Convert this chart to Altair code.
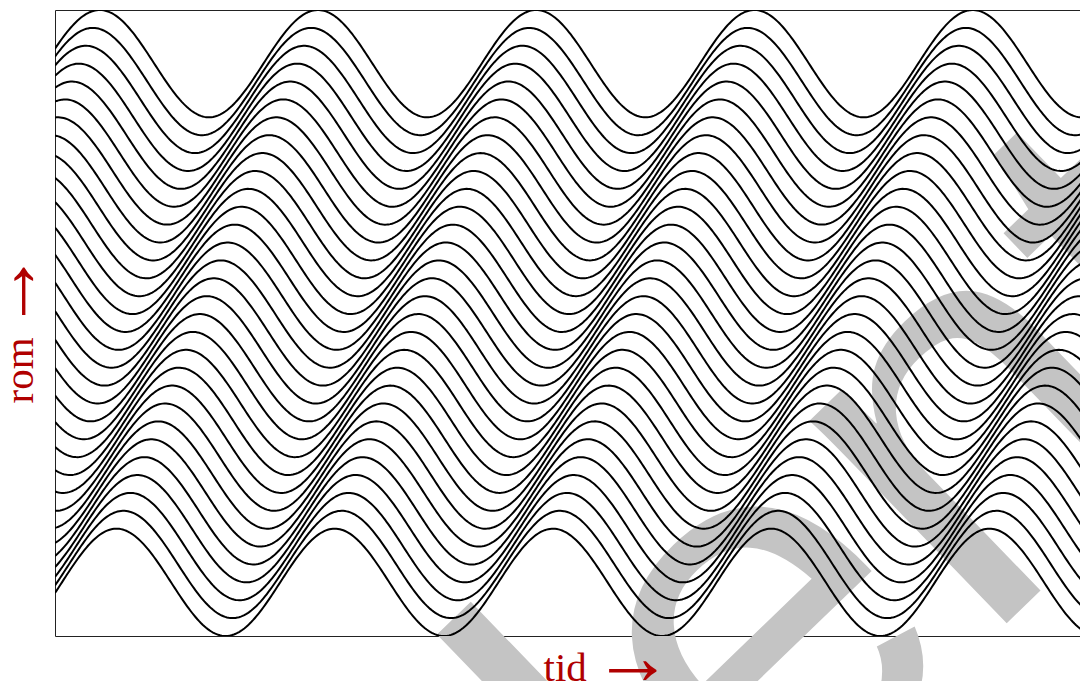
import numpy as np
import pandas as pd
import altair as alt

# ---- values ----
particles = list(range(1, 31))          # equilibrium positions ("rom") of the 30 world lines
amplitude = [3.0]                       # oscillation amplitude (space units)
phase_step = [0.2]                      # phase lag between neighbouring particles (rad)
time_range = [0.0, 29.51]               # visible "tid" domain (rad)
time_step = [0.05]
space_range = [-2.0, 33.0]              # "rom" domain
watermark_text = ["Student"]
x_title = ["tid"]
y_title = ["rom"]
arrow_text = ["\u2192"]

t = np.arange(time_range[0], time_range[1] + time_step[0], time_step[0])
frames = []
for p in particles:
    y = p + amplitude[0] * np.sin(t - phase_step[0] * p)
    frames.append(pd.DataFrame({"t": np.round(t, 3), "y": np.round(y, 4), "p": p}))
df = pd.concat(frames, ignore_index=True)

red = "#b00000"
title_font = "Liberation Serif"

watermark = alt.Chart(pd.DataFrame({"w": watermark_text})).mark_text(
    font="Liberation Sans", fontSize=535, angle=316, align="right",
    baseline="alphabetic", color="#c4c4c4"
).encode(x=alt.value(1246), y=alt.value(329), text="w:N")

lines = alt.Chart(df).mark_line(color="black", strokeWidth=2, clip=True).encode(
    x=alt.X("t:Q",
            scale=alt.Scale(domain=time_range, nice=False, zero=False),
            axis=alt.Axis(title=x_title[0], labels=False, ticks=False, domain=False, grid=False,
                          titleFont=title_font, titleFontSize=41, titleFontWeight="normal",
                          titleColor=red, titleX=488, titleY=44, titleAlign="left",
                          titleBaseline="alphabetic", zindex=1)),
    y=alt.Y("y:Q",
            scale=alt.Scale(domain=space_range, nice=False, zero=False),
            axis=alt.Axis(title=y_title[0], labels=False, ticks=False, domain=False, grid=False,
                          titleFont=title_font, titleFontSize=41, titleFontWeight="normal",
                          titleColor=red, titleAngle=270, titleX=-23, titleY=393, titleAlign="left",
                          titleBaseline="alphabetic", zindex=1)),
    detail="p:N",
)

arrow_df = pd.DataFrame({"a": arrow_text})
x_arrow = alt.Chart(arrow_df).mark_text(
    font=title_font, fontSize=80, align="left", baseline="alphabetic", color=red
).encode(x=alt.value(538), y=alt.value(674), text="a:N")
y_arrow = alt.Chart(arrow_df).mark_text(
    font=title_font, fontSize=80, align="left", baseline="alphabetic", color=red, angle=270
).encode(x=alt.value(-18), y=alt.value(321), text="a:N")

chart = alt.layer(watermark, lines, x_arrow, y_arrow).properties(
    width=1025, height=626,
    padding={"left": 47, "top": 2, "right": 0, "bottom": 50},
    autosize=alt.AutoSizeParams(type="none"),
).configure_view(stroke="#222222", strokeWidth=1)

chart.save("out.html", embed_options={"renderer": "svg", "actions": False})
